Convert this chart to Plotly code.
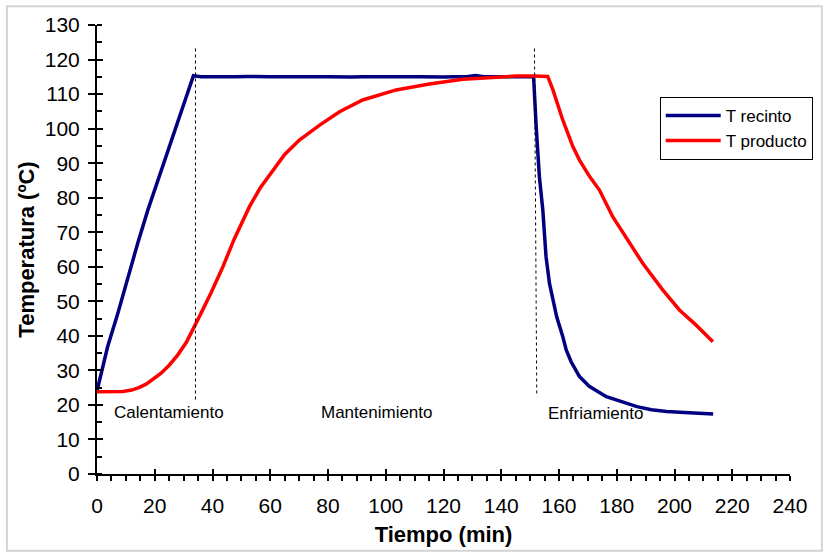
import plotly.graph_objects as go

# ---- data ----
t_recinto = [0, 1.5, 3.7, 7.2, 10.7, 14.1, 17.6, 21.1, 25.7, 29.2, 33.4,
             36, 40, 44, 48, 52, 56, 60, 64, 68, 72, 76, 80, 84, 88, 92, 96,
             100, 104, 108, 112, 116, 120, 124, 128, 131, 134, 138, 142, 146, 150,
             151.2, 152.1, 153.2, 154.4, 155.5, 156.7, 158.0, 159.2, 161.3, 162.5,
             164.2, 167.1, 170.6, 176.4, 183.3, 187, 192, 197.3, 205, 213.4]
T_recinto = [24, 29, 36.9, 46.5, 57.1, 66.8, 76.4, 85.1, 96.7, 105.4, 115.3,
             115.0, 115.1, 114.95, 115.05, 115.1, 114.95, 115.05, 115.0, 115.1, 114.95, 115.05, 115.0, 115.1, 114.95, 115.0, 115.05,
             115.0, 114.95, 115.05, 115.0, 115.1, 114.95, 115.0, 115.05, 115.4, 115.0, 115.05, 114.95, 115.0, 115.05,
             115.0, 100.6, 86.1, 76.4, 63.0, 55.2, 50.0, 45.5, 39.8, 35.9,
             32.5, 28.2, 25.3, 22.4, 20.5, 19.5, 18.6, 18.1, 17.7, 17.4]

t_producto = [0, 5, 9, 12, 14.5, 17, 19.5, 22.2, 25, 28, 31, 33.8, 36.0, 39.5, 43.6,
              47.5, 52.8, 56.5, 60.9, 65, 70.1, 77.1, 84, 92, 103.6, 115.1, 126.7,
              138.3, 145, 151, 156.1, 157.9, 161.3, 164.8, 167.1, 170.6, 174, 178.6,
              184.4, 189, 195.9, 201.7, 207.5, 213.3]
T_producto = [23.8, 23.8, 23.9, 24.3, 25.0, 26.0, 27.4, 29.2, 31.5, 34.5, 38.2, 42.7, 46.5, 52.5, 60.0,
              68.0, 77.4, 82.8, 88.0, 92.5, 96.7, 101.0, 104.9, 108.3, 111.2, 112.9, 114.3,
              115.0, 115.2, 115.2, 115.1, 111.2, 102.5, 94.8, 90.9, 86.1, 82.2, 74.5,
              66.8, 61.0, 53.3, 47.5, 43.1, 38.3]

# phase boundary lines
phase_lines_x_top = [34.1, 151.5]
phase_lines_x_bottom = [34.1, 152.3]
phase_lines_y_top = [123.2, 123.2]
phase_lines_y_bottom = [21.4, 22.4]

phase_labels = ["Calentamiento", "Mantenimiento", "Enfriamiento"]
phase_label_x = [25.1, 96.8, 172.8]
phase_label_y = [17.7, 17.7, 17.4]

FONT = "Arial, 'Liberation Sans', sans-serif"

fig = go.Figure()
fig.add_trace(go.Scatter(x=t_recinto, y=T_recinto, mode="lines", name="T recinto",
                         line=dict(color="#000080", width=3.5)))
fig.add_trace(go.Scatter(x=t_producto, y=T_producto, mode="lines", name="T producto",
                         line=dict(color="#FF0000", width=3.5)))
# invisible helper trace for the overlay axes (inner half of crossing ticks)
fig.add_trace(go.Scatter(x=[0], y=[0], xaxis="x2", yaxis="y2", mode="markers",
                         marker=dict(opacity=0), showlegend=False, hoverinfo="skip"))

for xt, xb, yt, yb in zip(phase_lines_x_top, phase_lines_x_bottom, phase_lines_y_top, phase_lines_y_bottom):
    fig.add_shape(type="line", xref="x", yref="y", x0=xt, y0=yt, x1=xb, y1=yb,
                  line=dict(color="black", width=1, dash="dot"))

for txt, x, y in zip(phase_labels, phase_label_x, phase_label_y):
    fig.add_annotation(x=x, y=y, xref="x", yref="y", text=txt, showarrow=False,
                       font=dict(family=FONT, size=17, color="black"))

# outer chart border
fig.add_shape(type="rect", xref="paper", yref="paper", x0=-0.130, x1=1.046, y0=-0.171, y1=1.042,
              line=dict(color="#d4d4d4", width=2), fillcolor="rgba(0,0,0,0)")

fig.update_layout(
    width=828, height=557,
    margin=dict(l=97, r=38, t=25, b=83),
    paper_bgcolor="white", plot_bgcolor="white",
    font=dict(family=FONT, color="black"),
    xaxis=dict(range=[0, 240], dtick=20, showgrid=False, zeroline=False,
               showline=True, linecolor="black", linewidth=2,
               ticks="outside", ticklen=5, tickwidth=2, tickcolor="black",
               minor=dict(ticks="outside", dtick=5, ticklen=5, tickwidth=1.5, tickcolor="black"),
               tickfont=dict(size=21, family=FONT), ticklabelstandoff=7,
               title=dict(text="<b>Tiempo (min)</b>", font=dict(size=22, family=FONT), standoff=10)),
    yaxis=dict(range=[0, 130], dtick=10, showgrid=False, zeroline=False,
               showline=True, linecolor="black", linewidth=2,
               ticks="outside", ticklen=7, tickwidth=2, tickcolor="black",
               minor=dict(ticks="inside", dtick=5, ticklen=5, tickwidth=1.5, tickcolor="black"),
               tickfont=dict(size=21, family=FONT), ticklabelstandoff=4,
               title=dict(text="<b>Temperatura (ºC)</b>", font=dict(size=22, family=FONT), standoff=4)),
    xaxis2=dict(range=[0, 240], dtick=20, overlaying="x", anchor="y2", showgrid=False, zeroline=False,
                showline=False, ticks="inside", ticklen=5, tickwidth=2, tickcolor="black",
                showticklabels=False),
    yaxis2=dict(range=[0, 130], dtick=10, overlaying="y", anchor="x2", side="left", showgrid=False,
                zeroline=False, showline=False, ticks="inside", ticklen=6, tickwidth=2,
                tickcolor="black", showticklabels=False),
    legend=dict(x=0.812, y=0.84, xanchor="left", yanchor="top",
                bordercolor="black", borderwidth=1, bgcolor="white",
                font=dict(size=17, family=FONT), tracegroupgap=0, itemwidth=55),
    showlegend=True,
)

fig.write_html("out.html")
